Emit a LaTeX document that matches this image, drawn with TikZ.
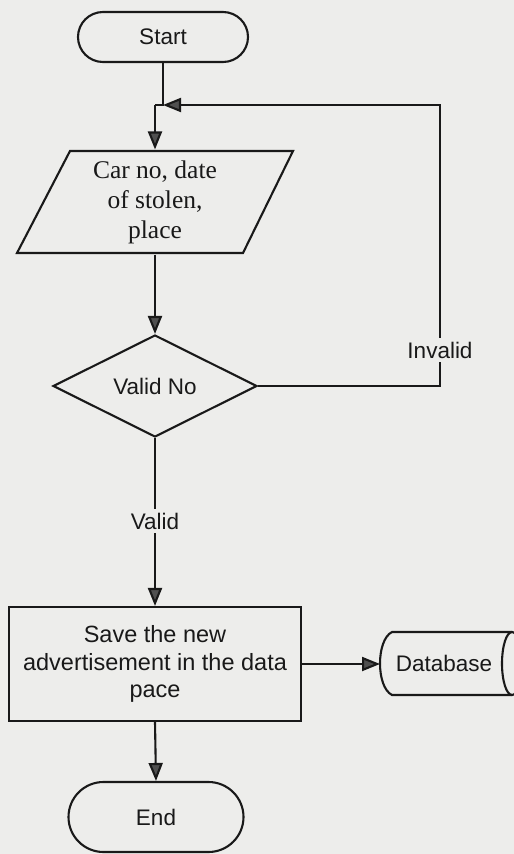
\documentclass[tikz,border=0pt]{standalone}
\usepackage{fontspec}
\setmainfont{Liberation Sans}
\newfontfamily\timesfam{Liberation Serif}
\usetikzlibrary{arrows.meta,shapes.geometric}
\definecolor{paper}{RGB}{237,237,235}
\definecolor{ink}{RGB}{25,25,25}
\definecolor{headgray}{RGB}{80,80,80}
\begin{document}
\begin{tikzpicture}[x=1pt,y=-1pt,line width=2.1pt,color=ink,
  every node/.style={font=\fontsize{22.5}{26}\selectfont},
  term/.style={rectangle,draw},
  flow/.style={-{Triangle[length=18pt,width=14pt,fill=headgray]}},
  lbl/.style={fill=paper,inner sep=3pt}]
  % page
  \fill[paper] (0,0) rectangle (514,854);
  \useasboundingbox (0,0) rectangle (514,854);

  % terminals, input, decision, process
  \node[term,minimum width=170pt,minimum height=50pt,rounded corners=25pt] (start) at (163,37) {Start};
  \node[minimum width=170pt,minimum height=103pt,align=center,
        font=\timesfam\fontsize{25.5}{30}\selectfont] (inp) at (155,202) {Car no, date\\of stolen,\\place};
  \draw (70,151) -- (293,151) -- (243,253) -- (17,253) -- cycle;
  \node[diamond,draw,minimum width=204pt,minimum height=102pt,aspect=2,inner sep=0pt] (dia) at (155,386) {Valid No};
  \node[rectangle,draw,minimum width=292pt,minimum height=114pt,align=center,
        font=\fontsize{23.5}{27.5}\selectfont] (save) at (155,664) {Save the new\\advertisement in the data\\pace};
  \node[term,minimum width=175pt,minimum height=70pt,rounded corners=35pt] (end) at (156,817) {End};

  % database store
  \node (db) at (444,663) {Database};
  \draw (512,632) -- (392,632) .. controls (376,640) and (376,687) .. (392,695) -- (512,695);
  \draw (512,663.5) ellipse [x radius=10, y radius=31.5];
  \coordinate (dbin) at (380,664);

  % branch labels
  \node[lbl] (invl) at (440,350) {Invalid};
  \node[lbl] (vl) at (155,521) {Valid};

  % connectors
  \coordinate (j) at (163,105);
  \coordinate (j2) at (155,105);
  \draw (start.south) |- (j2);
  \draw[flow] (j2) -- (inp.north);
  \draw[flow] (inp.south) -- (dia.north);
  \draw (dia.east) -| (invl.south);
  \draw[flow] (invl.north) |- (j);
  \draw (dia.south) -- (vl.north);
  \draw[flow] (vl.south) -- (save.north);
  \draw[flow] (save.east) -- (dbin);
  \draw[flow] (save.south) -- (end.north);
\end{tikzpicture}
\end{document}
